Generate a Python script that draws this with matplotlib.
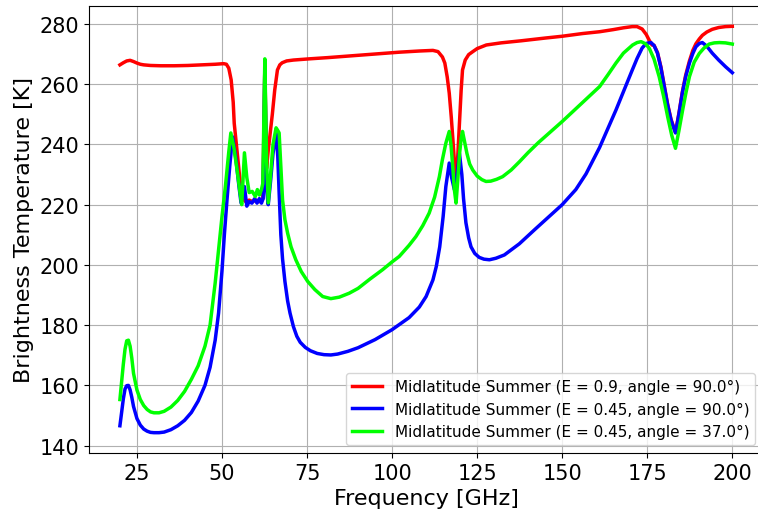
import matplotlib
matplotlib.use("Agg")
import matplotlib.pyplot as plt

# Midlatitude Summer, E = 0.9, angle = 90 deg
freq_red = [20, 21, 22, 23, 24, 25, 26, 27, 29, 32, 36, 40, 44, 48, 50.5, 51.3, 52,
            52.7, 53.3, 53.6, 54.5, 55.3, 56, 57, 58, 59, 60, 61, 62, 62.6, 63.1,
            63.6, 64.3, 64.8, 65.5, 66.3, 67, 67.7, 69, 71, 75.7, 81, 88, 95, 102,
            108, 112, 113.5, 114.8, 115.5, 116.2, 116.8, 117.4, 118.1, 118.8, 119.3,
            119.8, 120.3, 120.7, 121.5, 122.5, 123.6, 125, 127.7, 132, 138, 145, 150,
            156, 161, 165, 168, 170.6, 172, 173.5, 174.7, 175.6, 176.4, 177, 178, 179,
            180, 181, 182, 183.3, 184.3, 185.3, 186.3, 187.4, 188.4, 189.3, 190.3,
            191.2, 192.5, 194.1, 196, 198, 200]
tb_red = [266.4, 267.1, 267.7, 267.9, 267.5, 267.0, 266.6, 266.4, 266.2, 266.1, 266.1,
          266.2, 266.4, 266.6, 266.8, 266.6, 265.3, 261.4, 254.0, 247.0, 237.0, 228.0,
          222.0, 221.0, 221.5, 221.0, 221.5, 221.0, 222.0, 266.0, 232.0, 238.0, 245.0,
          250.0, 258.0, 264.7, 266.4, 267.1, 267.7, 268.0, 268.4, 268.8, 269.4, 270.0,
          270.6, 271.0, 271.2, 270.8, 269.0, 267.0, 262.4, 257.0, 249.0, 238.0, 226.0,
          236.0, 247.0, 258.0, 264.7, 268.0, 269.8, 270.7, 271.8, 273.0, 273.7, 274.4,
          275.3, 275.9, 276.8, 277.4, 278.1, 278.7, 279.1, 279.1, 278.3, 276.5, 274.5,
          273.0, 272.9, 270.5, 265.8, 259.5, 253.3, 248.3, 244.0, 250.3, 257.3, 263.0,
          267.7, 271.2, 273.4, 275.0, 276.2, 277.3, 278.2, 278.8, 279.1, 279.2]

# Midlatitude Summer, E = 0.45, angle = 90 deg
freq_blue = [20, 20.5, 21, 21.5, 22, 22.5, 23, 23.5, 24, 25, 26, 27, 28, 29, 30, 31.5,
             33, 35, 37, 39, 41, 43, 45, 46.5, 48, 49, 50, 50.7, 51.5, 52.3, 53.1, 54,
             55, 55.6, 56.6, 57.3, 58, 58.8, 59.6, 60.3, 61, 61.6, 62.1, 62.6, 63.1,
             63.6, 64.3, 65, 65.9, 66.4, 66.8, 67.3, 67.8, 68.5, 69.3, 70, 71, 72, 73,
             74.5, 76, 78, 80, 82, 84, 87, 90, 95, 100, 105, 108, 110, 112, 113, 114,
             115, 115.8, 116.8, 117.5, 118.3, 119, 119.8, 120.5, 121, 121.7, 122.5,
             123.2, 124.3, 125.6, 127, 128.6, 130.5, 133, 137.4, 142, 146, 150, 154,
             157, 161, 165.8, 168, 170.6, 172, 173.5, 174.7, 176.1, 177, 178, 179, 180,
             181, 182, 183.3, 184.3, 185.3, 186.3, 187.4, 188.4, 189.3, 190.3, 191.2,
             192.5, 194.1, 196, 198, 200]
tb_blue = [146.6, 151.0, 155.5, 158.8, 159.9, 160.0, 158.5, 156.0, 153.0, 149.0, 146.8,
           145.5, 144.8, 144.4, 144.3, 144.3, 144.5, 145.3, 146.6, 148.4, 151.0, 154.8,
           160.0, 166.0, 175.0, 184.0, 198.0, 210.0, 222.0, 233.0, 242.5, 236.0, 226.0,
           220.6, 226.0, 219.5, 221.0, 220.5, 222.0, 220.5, 222.0, 220.5, 222.0, 266.0,
           225.0, 220.0, 228.0, 237.0, 244.0, 236.0, 224.0, 210.0, 202.0, 194.5, 188.0,
           184.0, 179.5, 176.3, 174.3, 172.6, 171.5, 170.6, 170.2, 170.1, 170.4, 171.3,
           172.5, 175.2, 178.5, 182.5, 186.0, 189.5, 195.0, 199.5, 206.0, 216.0, 226.0,
           233.8, 229.0, 225.0, 229.0, 237.0, 230.0, 222.0, 214.0, 209.0, 206.0, 203.8,
           202.5, 201.9, 201.7, 202.2, 203.3, 207.0, 211.8, 215.9, 220.0, 225.0, 230.2,
           239.0, 251.4, 257.5, 264.7, 268.5, 272.0, 273.5, 273.8, 272.8, 270.3, 265.5,
           259.2, 253.0, 248.0, 243.8, 250.0, 257.0, 262.5, 267.0, 270.2, 272.4, 273.5,
           273.8, 272.6, 270.3, 268.0, 265.8, 263.8]

# Midlatitude Summer, E = 0.45, angle = 37 deg
freq_green = [20, 20.5, 21, 21.5, 22, 22.5, 23, 23.5, 24, 25, 26, 27, 28, 29, 30, 31.5,
              33, 35, 37, 39, 41, 43, 45, 46.5, 48, 49, 50, 51, 52, 52.6, 53.5, 54.5,
              55.3, 55.8, 56.6, 57.3, 58, 58.9, 59.8, 60.4, 61, 61.6, 62, 62.6, 63.1,
              63.6, 64.3, 65, 65.9, 66.3, 66.8, 67.3, 67.8, 68.5, 69.3, 70.3, 71.7,
              73.3, 75.2, 77.3, 79.6, 82, 84.5, 87.4, 90, 93.5, 97.2, 100, 102.1, 105,
              107, 109, 110.9, 112.5, 113.9, 114.8, 115.8, 116.8, 117.3, 117.8, 118.3,
              118.8, 119.3, 119.8, 120.3, 120.7, 121.3, 122, 122.8, 123.7, 125, 126.4,
              127.6, 129, 130.7, 132.5, 135, 137.4, 140, 143, 146.5, 150, 153.5, 157,
              161, 163.5, 165.8, 168, 170.7, 172, 173.2, 174.5, 175.6, 177, 178.5,
              179.8, 181, 182.2, 183.3, 184.3, 185.4, 186.4, 187.4, 188.8, 190.3, 191.7,
              193.2, 194.7, 196.2, 198, 200]
tb_green = [155.3, 161.0, 167.0, 172.0, 174.8, 175.0, 173.0, 169.0, 164.0, 158.5, 155.3,
            153.3, 152.0, 151.2, 150.9, 150.9, 151.4, 152.8, 155.0, 158.0, 162.0, 166.5,
            173.0, 180.0, 194.0, 205.0, 216.0, 226.0, 237.5, 243.8, 239.0, 231.0, 224.0,
            220.0, 237.2, 229.0, 224.0, 224.4, 222.7, 225.0, 223.2, 225.0, 227.0, 268.4,
            235.0, 220.6, 230.0, 240.0, 245.5, 244.8, 243.8, 233.0, 221.6, 215.0, 210.5,
            206.0, 201.7, 197.8, 194.5, 191.8, 189.5, 188.8, 189.3, 190.6, 192.2, 195.3,
            198.4, 201.0, 202.8, 206.5, 209.4, 213.0, 217.2, 222.5, 229.3, 235.0, 240.4,
            244.3, 240.0, 233.0, 225.0, 220.5, 228.0, 236.5, 242.0, 244.3, 241.0, 237.0,
            233.5, 231.5, 229.5, 228.3, 227.7, 227.8, 228.4, 229.3, 231.5, 234.2, 237.3,
            240.6, 244.1, 247.6, 251.3, 255.0, 259.2, 263.2, 267.0, 270.3, 273.0, 273.8,
            274.1, 273.4, 271.9, 268.3, 262.5, 256.0, 249.2, 243.0, 238.7, 244.5, 251.4,
            257.3, 262.5, 267.3, 270.2, 272.0, 273.3, 273.7, 273.8, 273.7, 273.3]

labels = ["Midlatitude Summer (E = 0.9, angle = 90.0°)",
          "Midlatitude Summer (E = 0.45, angle = 90.0°)",
          "Midlatitude Summer (E = 0.45, angle = 37.0°)"]

fig = plt.figure(figsize=(7.58, 5.10), dpi=100)
ax = fig.add_axes([0.1178, 0.1098, 0.8887, 0.8765])

ax.plot(freq_red, tb_red, color="red", lw=2.5, label=labels[0])
ax.plot(freq_blue, tb_blue, color="blue", lw=2.5, label=labels[1])
ax.plot(freq_green, tb_green, color="lime", lw=2.5, label=labels[2])

ax.set_xlabel("Frequency [GHz]", fontsize=16)
ax.set_ylabel("Brightness Temperature [K]", fontsize=16)
ax.tick_params(labelsize=15)
ax.grid(True)
ax.legend(loc="lower right", fontsize=11)

fig.savefig("out.png", dpi=100)
